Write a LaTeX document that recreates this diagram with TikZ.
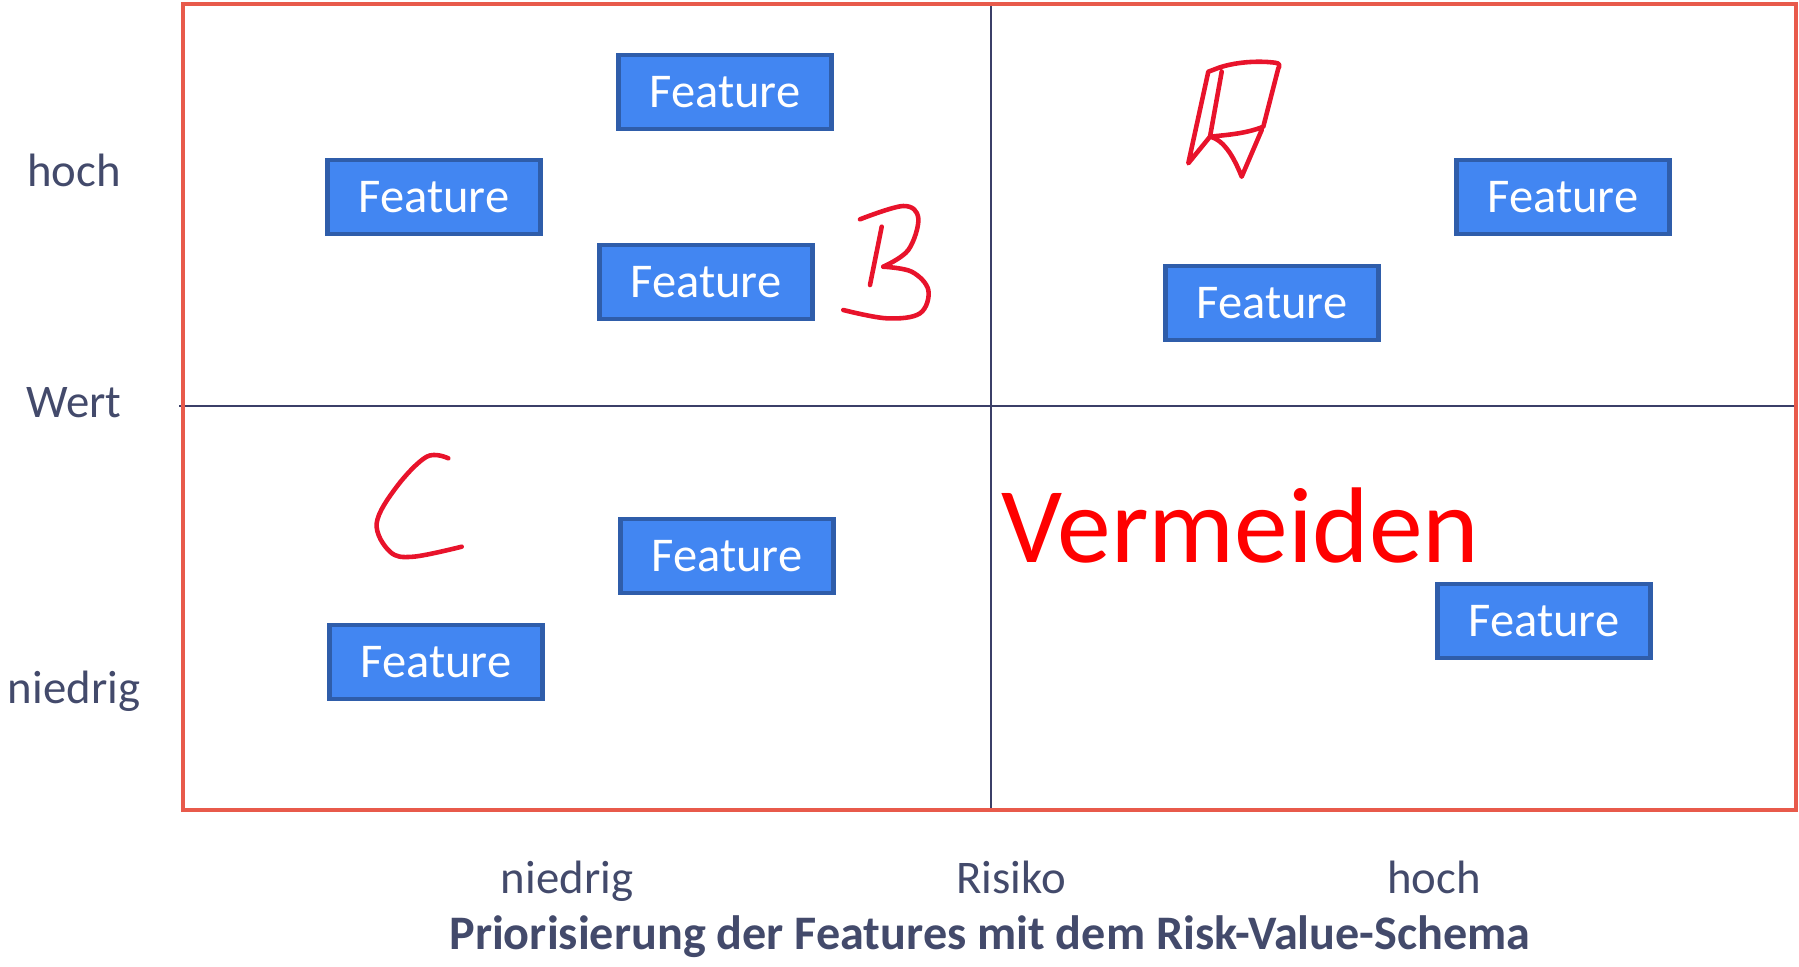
\documentclass[tikz,border=0pt]{standalone}
\usepackage{fontspec}
\setmainfont{Carlito}

\definecolor{framered}{HTML}{E85A4B}
\definecolor{gridnavy}{HTML}{3B3F68}
\definecolor{labelnavy}{HTML}{434A6B}
\definecolor{featblue}{HTML}{4286F2}
\definecolor{featedge}{HTML}{2F5DAA}
\definecolor{inkred}{HTML}{E8132B}

\tikzset{
  feature/.style={draw=featedge,line width=1.2pt,fill=featblue,text=white,
    minimum width=2.13cm,minimum height=0.735cm,inner sep=0pt,
    font=\fontsize{13.8}{15}\selectfont},
  axislabel/.style={text=labelnavy,inner sep=0pt,anchor=base,
    font=\fontsize{13.3}{15}\selectfont},
  gridline/.style={gridnavy,line width=0.5pt},
  frameline/.style={framered,line width=1.3pt},
  ink/.style={inkred,line width=1.3pt,line cap=round,line join=round},
}

\begin{document}
\begin{tikzpicture}[x=0.01cm,y=-0.01cm]
  \useasboundingbox (0,0) rectangle (1799,966);
%frame and quadrants
  \coordinate (topleft) at (183,4);
  \coordinate (botright) at (1796,810);
  \coordinate (centre) at (991,406);
  \draw[gridline] (centre |- topleft) -- (centre |- botright);
  \draw[gridline] ([xshift=-1pt]centre -| topleft) -- (centre -| botright);
  \draw[frameline] (topleft) rectangle (botright);

%value axis
  \node[axislabel] (valhigh) at (74,186) {hoch};
  \node[axislabel] (valname) at (74,417) {Wert};
  \node[axislabel] (vallow) at (74,703) {niedrig};
%risk axis
  \node[axislabel] (risklow) at (567,893) {niedrig};
  \node[axislabel] (riskname) at (1011,893) {Risiko};
  \node[axislabel] (riskhigh) at (1434,893) {hoch};
  \node[axislabel,font=\fontsize{13.7}{15}\selectfont\bfseries] (caption) at (990,949)
    {Priorisierung der Features mit dem Risk-Value-Schema};

%quadrant B
  \node[feature] (featB1) at (725,92) {Feature};
  \node[feature] (featB2) at (434,197) {Feature};
  \node[feature] (featB3) at (706,282) {Feature};
  \draw[ink] (881.7,226.7) -- (870,285);
  \draw[ink] plot[smooth,tension=0.6] coordinates {(860,219.3) (903.3,206) (918.3,218.3)
    (908.3,250) (883.3,266.7)};
  \draw[ink] plot[smooth,tension=0.6] coordinates {(883.3,266.7) (911.7,271.7) (928.3,290)
    (920,313.3) (886.7,318.3) (843.3,310)};
%quadrant A
  \node[feature] (featA1) at (1563,197) {Feature};
  \node[feature] (featA2) at (1272,303) {Feature};
  \draw[ink] (1221.7,71.7) -- (1210,136.7) -- (1188.3,163.3) -- (1208.3,71.7) -- (1220,67.3)
    .. controls (1240,61) and (1262,61) .. (1275,62.7)
    .. controls (1280,63) and (1280,66) .. (1278.3,68.3)
    -- (1263.3,126.7) .. controls (1245,134) and (1225,135) .. (1210,136.7);
  \draw[ink] (1210,136.7) .. controls (1225,140) and (1235,160) .. (1241.7,176.7)
    -- (1261.7,130);
%quadrant C
  \node[feature] (featC1) at (727,556) {Feature};
  \node[feature] (featC2) at (436,662) {Feature};
  \draw[ink] plot[smooth,tension=0.6] coordinates {(448.3,458.3) (426.7,456.7) (396.7,486.7)
    (376.7,523.3) (390,551.7) (413.3,556.7) (461.7,546.7)};
%avoid quadrant
  \node[text=red,inner sep=0pt,anchor=base west,font=\fontsize{30.6}{34}\selectfont]
    (avoid) at (1001,562) {Vermeiden};
  \node[feature] (featV1) at (1544,621) {Feature};
\end{tikzpicture}
\end{document}
